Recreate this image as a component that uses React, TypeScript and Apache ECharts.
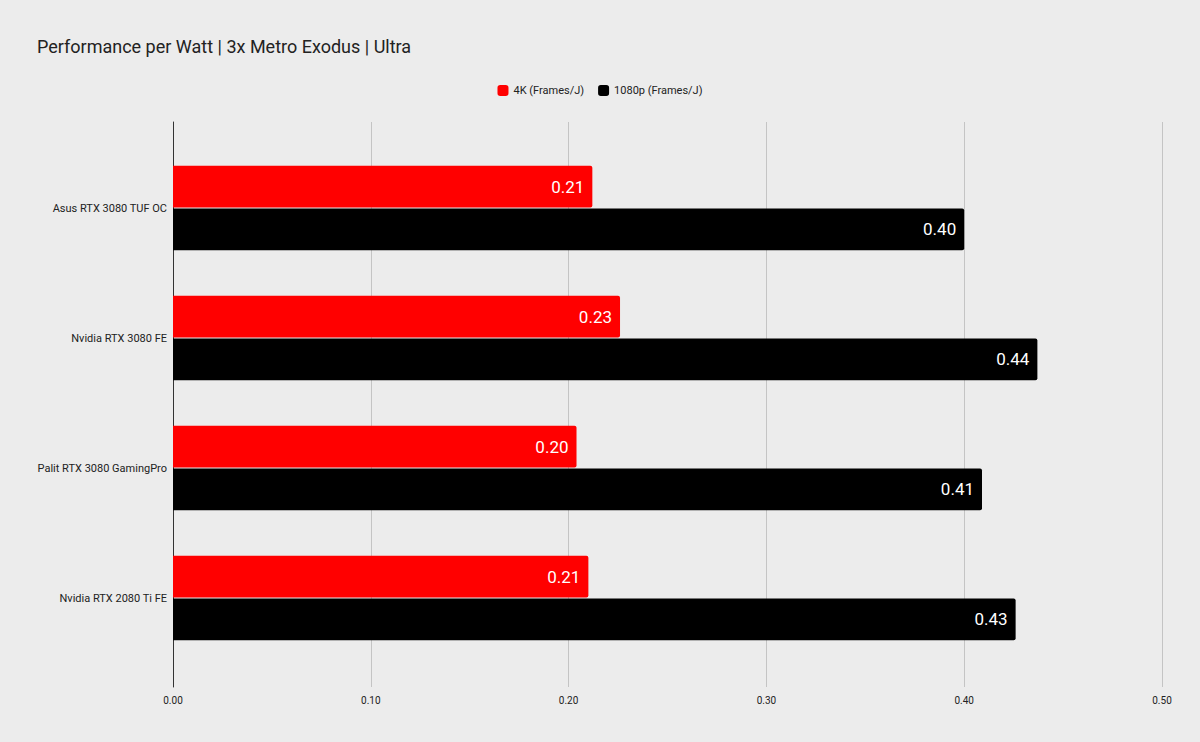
import React, { useEffect, useRef } from "react";
import * as echarts from "echarts";

const categories = [
  "Asus RTX 3080 TUF OC",
  "Nvidia RTX 3080 FE",
  "Palit RTX 3080 GamingPro",
  "Nvidia RTX 2080 Ti FE",
];
const series4K = [0.212, 0.226, 0.204, 0.21];
const series1080p = [0.4, 0.437, 0.409, 0.426];
const seriesNames = ["4K (Frames/J)", "1080p (Frames/J)"];
const title = "Performance per Watt | 3x Metro Exodus | Ultra";
const xMin = 0;
const xMax = 0.5;
const xStep = 0.1;

export default function App() {
  const ref = useRef<HTMLDivElement>(null);
  useEffect(() => {
    if (!ref.current) return;
    const chart = echarts.init(ref.current, null, { renderer: "svg" });
    const font = "Roboto";
    const label = {
      show: true,
      position: "insideRight",
      color: "#ffffff",
      fontFamily: font,
      fontSize: 17,
      distance: 8,
      formatter: (p: any) => Number(p.value).toFixed(2),
    };
    chart.setOption({
      animation: false,
      backgroundColor: "#ececec",
      textStyle: { fontFamily: font },
      title: {
        text: title,
        left: 32,
        top: 32,
        textStyle: { fontFamily: font, fontSize: 18, fontWeight: "normal", color: "#222" },
      },
      legend: {
        top: 80,
        left: "center",
        itemWidth: 11,
        itemHeight: 11,
        itemGap: 14,
        icon: "roundRect",
        textStyle: { fontFamily: font, fontSize: 11, color: "#222" },
        data: seriesNames,
      },
      grid: [
        { left: 173, right: 38, top: 122, bottom: 55, containLabel: false },
        { left: 173, right: 38, top: 143, bottom: 79, containLabel: false },
      ],
      xAxis: [
        {
          gridIndex: 0,
          type: "value",
          min: xMin,
          max: xMax,
          interval: xStep,
          axisLabel: {
            formatter: (v: number) => v.toFixed(2),
            fontFamily: font,
            fontSize: 10,
            color: "#222",
            margin: 8,
          },
          axisLine: { show: false },
          axisTick: { show: false },
          splitLine: { lineStyle: { color: "#c4c4c4", width: 1 } },
        },
        {
          gridIndex: 1,
          type: "value",
          min: xMin,
          max: xMax,
          interval: xStep,
          show: false,
        },
      ],
      yAxis: [
        {
          gridIndex: 0,
          type: "category",
          data: [""],
          axisLine: { show: true, lineStyle: { color: "#333", width: 1 } },
          axisTick: { show: false },
          axisLabel: { show: false },
          splitLine: { show: false },
        },
        {
          gridIndex: 1,
          type: "category",
          data: categories,
          inverse: true,
          axisLine: { show: false },
          axisTick: { show: false },
          axisLabel: { fontFamily: font, fontSize: 11, color: "#222", margin: 6 },
        },
      ],
      series: [
        {
          name: seriesNames[0],
          type: "bar",
          xAxisIndex: 1,
          yAxisIndex: 1,
          data: series4K,
          itemStyle: { color: "#ff0000", borderRadius: [0, 2, 2, 0] },
          barGap: "2%",
          barCategoryGap: "35%",
          label,
        },
        {
          name: seriesNames[1],
          type: "bar",
          xAxisIndex: 1,
          yAxisIndex: 1,
          data: series1080p,
          itemStyle: { color: "#000000", borderRadius: [0, 2, 2, 0] },
          barGap: "2%",
          barCategoryGap: "35%",
          label,
        },
      ],
    });
    return () => chart.dispose();
  }, []);
  return (
    <div
      ref={ref}
      style={{ position: "fixed", left: 0, top: 0, width: 1200, height: 742 }}
    />
  );
}
